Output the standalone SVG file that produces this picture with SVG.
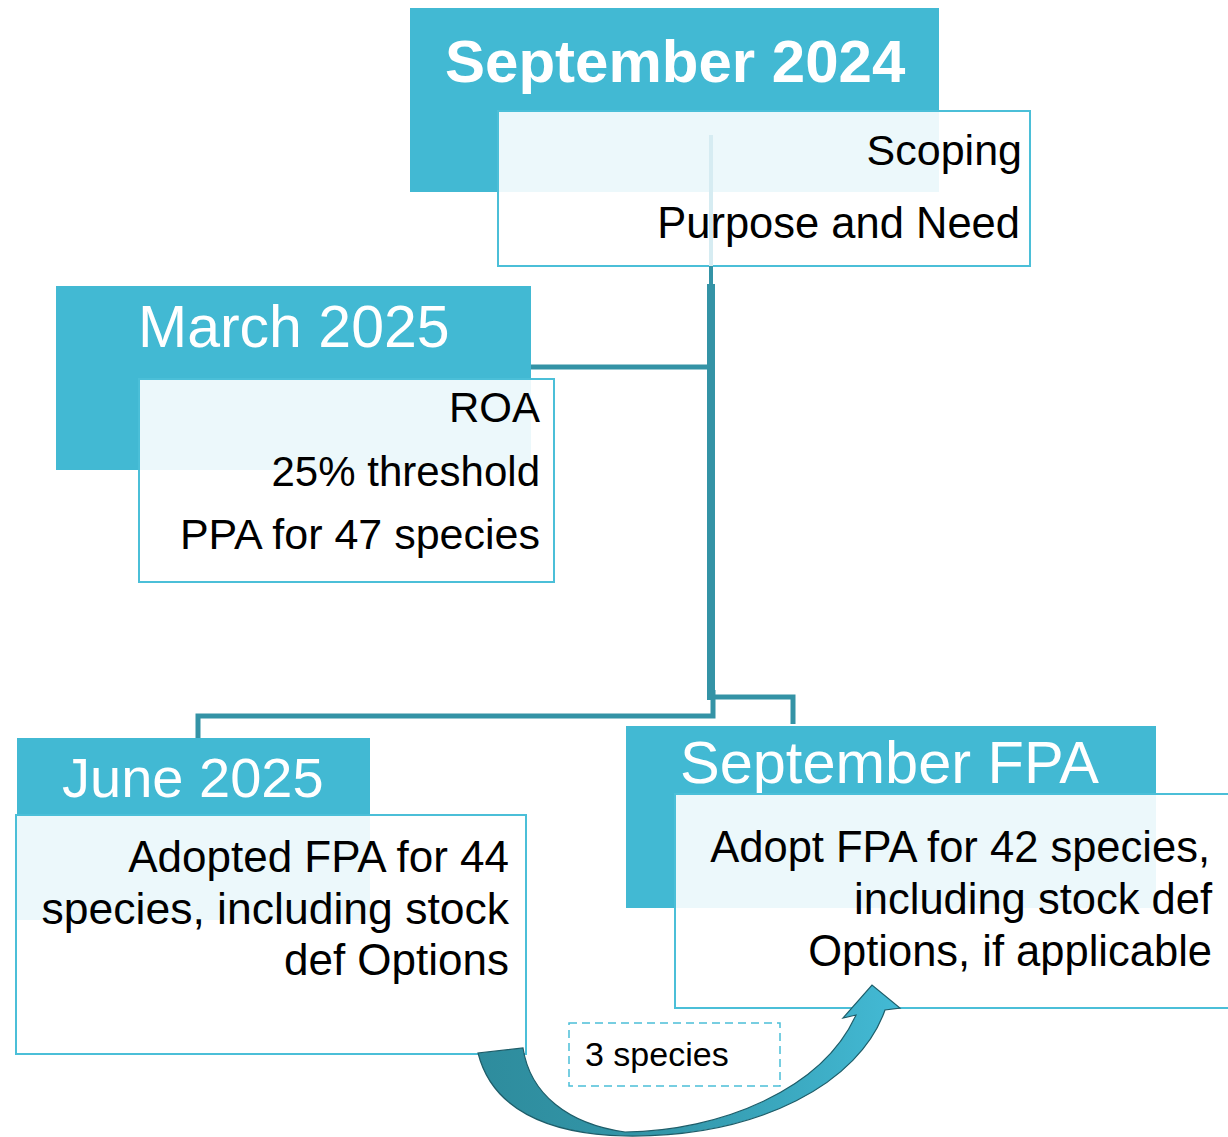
<svg xmlns="http://www.w3.org/2000/svg" width="1228" height="1137" viewBox="0 0 1228 1137">
<defs>
<style>
.hdr{fill:#42B9D3}
.box{fill:#ffffff;fill-opacity:0.9;stroke:#4BBFD8;stroke-width:2}
.ttl{font-family:"Liberation Sans",Arial,sans-serif;fill:#ffffff}
.txt{font-family:"Liberation Sans",Arial,sans-serif;fill:#000000;text-anchor:end}
.conn{fill:none;stroke:#3493A6;stroke-width:5;stroke-linejoin:miter}
</style>
<linearGradient id="arrowGrad" x1="0" y1="0" x2="1" y2="0">
<stop offset="0" stop-color="#2E8C9D"/>
<stop offset="0.45" stop-color="#3397AA"/>
<stop offset="1" stop-color="#43BAD5"/>
</linearGradient>
</defs>
<rect width="1228" height="1137" fill="#ffffff"/>

<g id="node-sep2024">
<rect class="hdr" x="410" y="8" width="529" height="184"/>
<text class="ttl" x="445" y="82" font-weight="bold" font-size="60">September 2024</text>
<rect class="box" x="498" y="111" width="532" height="155"/>
<text class="txt" x="1022" y="165" font-size="43">Scoping</text>
<text class="txt" x="1020" y="238" font-size="43.5">Purpose and Need</text>
</g>

<g id="node-mar2025">
<rect class="hdr" x="56" y="286" width="475" height="184"/>
<text class="ttl" x="138" y="347" font-size="59">March 2025</text>
<rect class="box" x="139" y="379" width="415" height="203"/>
<text class="txt" x="540" y="422" font-size="42">ROA</text>
<text class="txt" x="540" y="486" font-size="42">25% threshold</text>
<text class="txt" x="540" y="549" font-size="43">PPA for 47 species</text>
</g>

<g id="node-jun2025">
<rect class="hdr" x="17" y="738" width="353" height="182"/>
<text class="ttl" x="62" y="797" font-size="56">June 2025</text>
<rect class="box" x="16" y="815" width="510" height="239"/>
<text class="txt" x="509" y="872" font-size="44">Adopted FPA for 44</text>
<text class="txt" x="509" y="924" font-size="44.5">species, including stock</text>
<text class="txt" x="509" y="975" font-size="44">def Options</text>
</g>

<g id="node-sepfpa">
<rect class="hdr" x="626" y="726" width="530" height="182"/>
<text class="ttl" x="680" y="783" font-size="59.5">September FPA</text>
<rect class="box" x="675" y="794" width="560" height="214"/>
<text class="txt" x="1210" y="862" font-size="43.5">Adopt FPA for 42 species,</text>
<text class="txt" x="1212" y="914" font-size="43.5">including stock def</text>
<text class="txt" x="1212" y="966" font-size="43.5">Options, if applicable</text>
</g>

<g id="node-3species">
<rect x="569" y="1023" width="211" height="63" fill="none" stroke="#4BBFD8" stroke-width="1.5" stroke-dasharray="8,5"/>
<text x="585" y="1066" font-family="'Liberation Sans',Arial,sans-serif" font-size="34" fill="#000000">3 species</text>
</g>

<g id="connectors">
<line x1="711" y1="135" x2="711" y2="266" stroke="#D6ECF2" stroke-width="4"/>
<line x1="711" y1="266" x2="711" y2="286" stroke="#3493A6" stroke-width="4"/>
<line x1="711" y1="284" x2="711" y2="700" stroke="#3493A6" stroke-width="8"/>
<polyline class="conn" points="531,367 711,367"/>
<polyline class="conn" points="713,690 713,716 198,716 198,738"/>
<polyline class="conn" points="711,697 793,697 793,724"/>
<path d="M 478,1053 C 492,1108 545,1134 625,1136 C 760,1138 860,1082 885,1010 L 900,1008 L 872,985 L 843,1018 L 856,1015 C 822,1090 720,1131 625,1132 C 568,1124 530,1094 523,1048 Z" fill="url(#arrowGrad)" stroke="#1E5D69" stroke-width="1.2" stroke-linejoin="miter"/>
</g>
</svg>
